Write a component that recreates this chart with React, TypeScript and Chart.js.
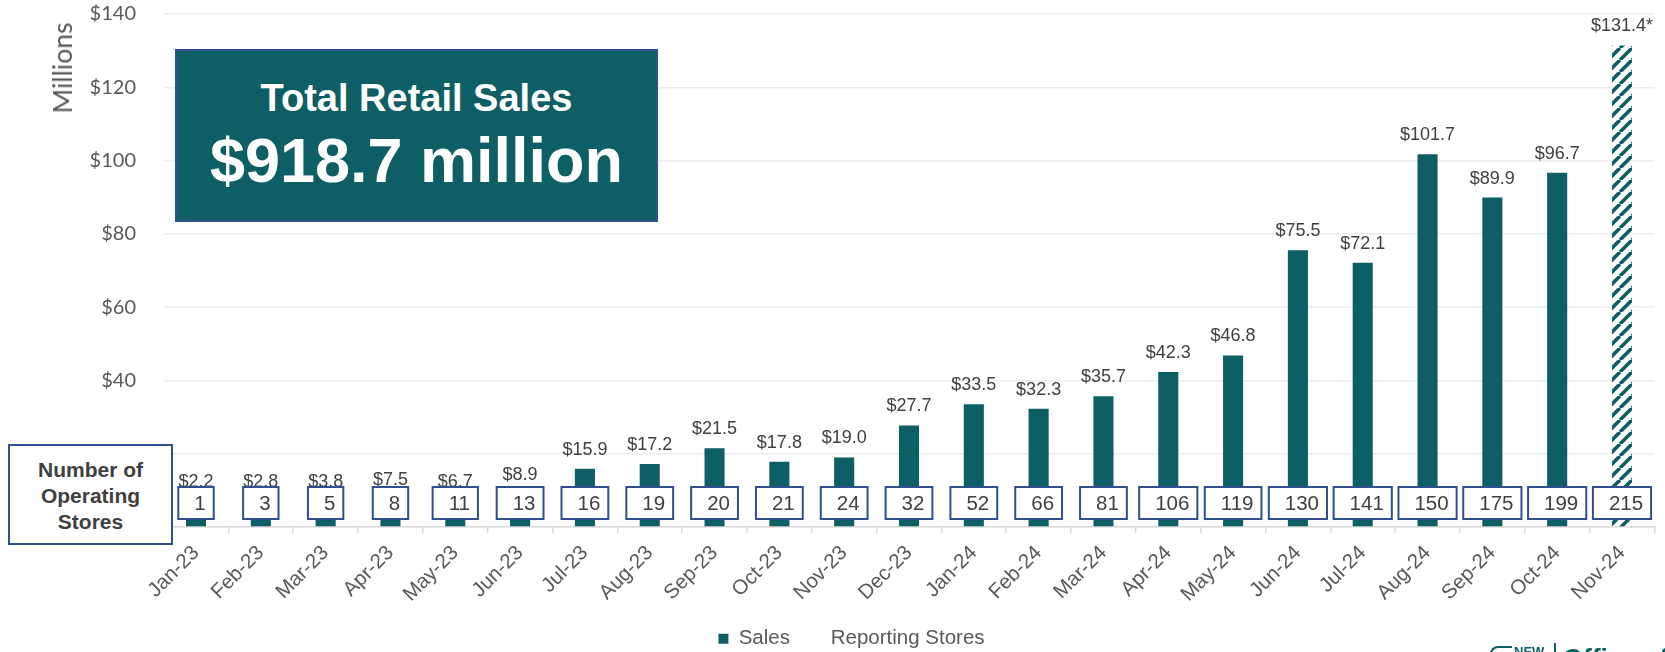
import React, { useEffect, useRef } from 'react';
import { Chart, registerables } from 'chart.js';

Chart.register(...registerables);

const months = [
  'Jan-23', 'Feb-23', 'Mar-23', 'Apr-23', 'May-23', 'Jun-23', 'Jul-23', 'Aug-23',
  'Sep-23', 'Oct-23', 'Nov-23', 'Dec-23', 'Jan-24', 'Feb-24', 'Mar-24', 'Apr-24',
  'May-24', 'Jun-24', 'Jul-24', 'Aug-24', 'Sep-24', 'Oct-24', 'Nov-24',
];
const sales = [
  2.2, 2.8, 3.8, 7.5, 6.7, 8.9, 15.9, 17.2, 21.5, 17.8, 19.0, 27.7,
  33.5, 32.3, 35.7, 42.3, 46.8, 75.5, 72.1, 101.7, 89.9, 96.7, 131.4,
];
const stores = [
  1, 3, 5, 8, 11, 13, 16, 19, 20, 21, 24, 32, 52, 66, 81, 106, 119, 130, 141, 150, 175, 199, 215,
];
const estimated = months.map((m) => m === 'Nov-24');
const yMin = 0;
const yMax = 140;
const yStep = 20;

const TEAL = '#0E5E66';
const BLUE = '#2F4F8F';
const SANS = '"Liberation Sans", Arial, sans-serif';

function makeHatch(): CanvasPattern | string {
  const s = 12;
  const c = document.createElement('canvas');
  c.width = s;
  c.height = s;
  const g = c.getContext('2d');
  if (!g) return TEAL;
  g.fillStyle = '#ffffff';
  g.fillRect(0, 0, s, s);
  g.strokeStyle = TEAL;
  g.lineWidth = 3.6;
  g.beginPath();
  for (const o of [-s, 0, s]) {
    g.moveTo(o, s);
    g.lineTo(o + s, 0);
  }
  g.stroke();
  return g.createPattern(c, 'repeat') || TEAL;
}

const labelPlugin = {
  id: 'salesAndStores',
  afterDatasetsDraw(chart: any) {
    const ctx = chart.ctx as CanvasRenderingContext2D;
    const area = chart.chartArea;
    const m0 = chart.getDatasetMeta(0);
    const m1 = chart.getDatasetMeta(1);
    ctx.save();
    ctx.font = `18px ${SANS}`;
    ctx.fillStyle = '#404040';
    ctx.textAlign = 'center';
    ctx.textBaseline = 'middle';
    m0.data.forEach((bar: any, i: number) => {
      const txt = '$' + sales[i].toFixed(1) + (estimated[i] ? '*' : '');
      const y = Math.min(bar.y - 19, area.bottom - 45);
      ctx.fillText(txt, bar.x, y);
    });
    ctx.font = `20.5px ${SANS}`;
    m1.data.forEach((pt: any, i: number) => {
      const txt = String(chart.data.datasets[1].data[i]);
      const tw = ctx.measureText(txt).width;
      const w = tw + 24;
      const h = 32;
      const x0 = pt.x - w / 2;
      const y0 = area.bottom - 40;
      ctx.fillStyle = '#ffffff';
      ctx.fillRect(x0, y0, w, h);
      ctx.strokeStyle = BLUE;
      ctx.lineWidth = 2;
      ctx.strokeRect(x0, y0, w, h);
      ctx.fillStyle = '#404040';
      ctx.textAlign = 'right';
      ctx.fillText(txt, x0 + w - 8, y0 + h / 2 + 1);
    });
    ctx.restore();
  },
};

export default function App() {
  const ref = useRef<HTMLCanvasElement | null>(null);

  useEffect(() => {
    if (!ref.current) return;
    const hatch = makeHatch();
    const chart = new Chart(ref.current, {
      type: 'bar',
      data: {
        labels: months,
        datasets: [
          {
            type: 'bar',
            label: 'Sales',
            data: sales,
            backgroundColor: sales.map((_, i) => (estimated[i] ? hatch : TEAL)) as any,
            borderWidth: 0,
            barPercentage: 0.31,
            categoryPercentage: 1,
            yAxisID: 'y',
          },
          {
            type: 'line',
            label: 'Reporting Stores',
            data: stores,
            showLine: false,
            pointRadius: 0,
            pointHoverRadius: 0,
            backgroundColor: 'rgba(0,0,0,0)',
            borderColor: 'rgba(0,0,0,0)',
            borderWidth: 0,
            yAxisID: 'yStores',
          } as any,
        ],
      },
      options: {
        responsive: false,
        animation: false,
        devicePixelRatio: 1,
        layout: { padding: { left: 48.6, right: 10.6, top: 14, bottom: 0 } },
        plugins: {
          legend: {
            position: 'bottom',
            labels: {
              boxWidth: 10,
              boxHeight: 10,
              padding: 20.5,
              color: '#595959',
              font: { family: SANS, size: 20.5 },
            },
          },
          tooltip: { enabled: false },
          title: { display: false },
        },
        scales: {
          x: {
            offset: true,
            grid: {
              offset: true,
              drawOnChartArea: false,
              drawTicks: true,
              tickLength: 6,
              color: '#D9D9D9',
              lineWidth: 1.5,
            },
            border: { display: true, color: '#D9D9D9', width: 1.5 },
            ticks: {
              autoSkip: false,
              maxRotation: 45,
              minRotation: 45,
              padding: 8,
              color: '#595959',
              font: { family: SANS, size: 20.5 },
            },
            afterFit: (scale: any) => {
              scale.height = 81;
            },
          },
          y: {
            min: yMin,
            max: yMax,
            grid: {
              color: '#EDEDED',
              lineWidth: 1.5,
              drawTicks: true,
              tickLength: 27.6,
              tickColor: 'rgba(0,0,0,0)',
            },
            border: { display: false },
            ticks: {
              stepSize: yStep,
              padding: 0,
              color: '#595959',
              font: { family: 'Lato, "Open Sans", sans-serif', size: 20 },
              callback: (v: any) => '$' + v,
            },
            afterFit: (scale: any) => {
              scale.width = 115;
            },
          },
          yStores: {
            display: false,
            min: 0,
            max: 1000,
          },
        },
      },
      plugins: [labelPlugin],
    });
    return () => chart.destroy();
  }, []);

  return (
    <div
      style={{
        position: 'fixed',
        left: 0,
        top: 0,
        width: 1665,
        height: 652,
        overflow: 'hidden',
        background: '#ffffff',
      }}
    >
      <canvas ref={ref} width={1665} height={659} style={{ position: 'absolute', left: 0, top: 0 }} />

      {/* Millions axis title */}
      <div
        style={{
          position: 'absolute',
          left: 62,
          top: 67.5,
          transform: 'translate(-50%, -50%) rotate(-90deg)',
          fontFamily: 'Lato, "Open Sans", sans-serif',
          fontSize: 26.5,
          lineHeight: '26px',
          color: '#595959',
          whiteSpace: 'nowrap',
        }}
      >
        Millions
      </div>

      {/* Total retail sales callout */}
      <div
        style={{
          position: 'absolute',
          left: 175,
          top: 49,
          width: 483,
          height: 173,
          boxSizing: 'border-box',
          background: TEAL,
          border: `2px solid ${BLUE}`,
        }}
      />
      <div
        style={{
          position: 'absolute',
          left: 175,
          width: 483,
          top: 78.5,
          textAlign: 'center',
          fontFamily: SANS,
          fontWeight: 'bold',
          fontSize: 38,
          lineHeight: '38px',
          color: '#ffffff',
          whiteSpace: 'nowrap',
        }}
      >
        Total Retail Sales
      </div>
      <div
        style={{
          position: 'absolute',
          left: 175,
          width: 483,
          top: 129.4,
          textAlign: 'center',
          fontFamily: SANS,
          fontWeight: 'bold',
          fontSize: 63,
          lineHeight: '63px',
          color: '#ffffff',
          whiteSpace: 'nowrap',
        }}
      >
        $918.7 million
      </div>

      {/* Number of operating stores box */}
      <div
        style={{
          position: 'absolute',
          left: 8,
          top: 444,
          width: 165,
          height: 101,
          boxSizing: 'border-box',
          background: '#ffffff',
          border: `2px solid ${BLUE}`,
        }}
      />
      <div
        style={{
          position: 'absolute',
          left: 8,
          width: 165,
          top: 457,
          textAlign: 'center',
          fontFamily: SANS,
          fontWeight: 'bold',
          fontSize: 21,
          lineHeight: '26px',
          color: '#404040',
        }}
      >
        Number of
        <br />
        Operating
        <br />
        Stores
      </div>

      {/* partially visible logo at bottom right */}
      <div
        style={{
          position: 'absolute',
          left: 1490,
          top: 646,
          width: 22,
          height: 20,
          boxSizing: 'border-box',
          borderTop: `2px solid ${TEAL}`,
          borderLeft: `2px solid ${TEAL}`,
          borderTopLeftRadius: 8,
        }}
      />
      <div
        style={{
          position: 'absolute',
          left: 1514,
          top: 645,
          fontFamily: SANS,
          fontWeight: 'bold',
          fontSize: 13,
          lineHeight: '13px',
          color: TEAL,
        }}
      >
        NEW
      </div>
      <div style={{ position: 'absolute', left: 1554, top: 643, width: 1.5, height: 20, background: TEAL }} />
      <div
        style={{
          position: 'absolute',
          left: 1563,
          top: 644.6,
          fontFamily: SANS,
          fontWeight: 'bold',
          fontSize: 26,
          lineHeight: '26px',
          color: TEAL,
          whiteSpace: 'nowrap',
        }}
      >
        Office of Cannabis Management
      </div>
    </div>
  );
}
